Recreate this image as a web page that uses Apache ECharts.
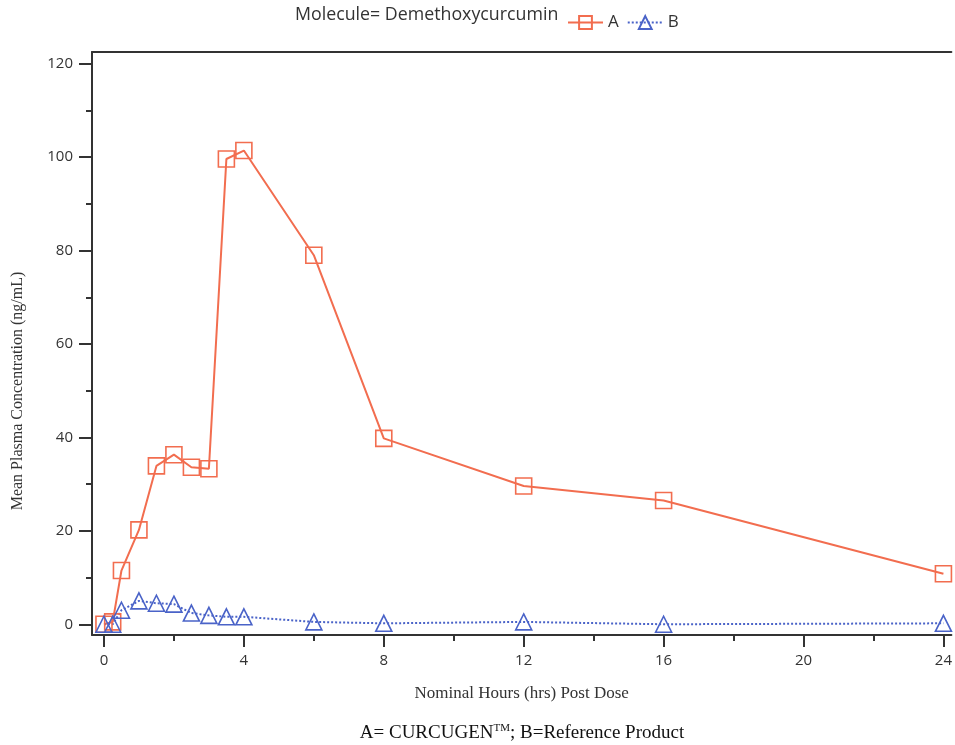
<!DOCTYPE html>
<html>
<head>
<meta charset="utf-8">
<script src="https://cdn.jsdelivr.net/npm/echarts@6/dist/echarts.min.js"></script>
<style>
  html, body { margin: 0; padding: 0; background: #fff; }
  #chart { width: 955px; height: 745px; }
</style>
</head>
<body>
<div id="chart"></div>
<script>
// sampling times (hrs) and mean concentrations (ng/mL)
const hours = [0, 0.25, 0.5, 1, 1.5, 2, 2.5, 3, 3.5, 4, 6, 8, 12, 16, 24];
const seriesA = [0, 0.5, 11.5, 20.2, 33.9, 36.3, 33.6, 33.3, 99.6, 101.4, 79.0, 39.8, 29.6, 26.5, 10.8];
const seriesB = [0, 0, 3.0, 5.0, 4.5, 4.3, 2.4, 1.9, 1.6, 1.6, 0.5, 0.2, 0.5, 0, 0.2];

const xMajorTicks = [0, 4, 8, 12, 16, 20, 24];
const xMinorTicks = [2, 6, 10, 14, 18, 22];
const yMajorTicks = [0, 20, 40, 60, 80, 100, 120];
const yMinorTicks = [10, 30, 50, 70, 90, 110];

const colorA = '#f26d4f';
const colorB = '#4a63c8';

const toPairs = vals => hours.map((h, i) => [h, vals[i]]);

const chart = echarts.init(document.getElementById('chart'));

const xCommon = {
    type: 'value', min: -0.342, max: 24.228,
    splitLine: { show: false }
};
const yCommon = {
    type: 'value', min: -2.3, max: 122.5,
    splitLine: { show: false }
};
const dark = { color: '#333', width: 2 };

const option = {
    animation: false,
    backgroundColor: '#fff',
    grid: { left: 92, top: 52, right: 0, bottom: 110 },
    legend: {
        left: 562, top: 9,
        itemWidth: 35, itemHeight: 16, itemGap: 8,
        textStyle: { fontFamily: 'Open Sans', fontSize: 17, color: '#333' },
        data: ['A', 'B']
    },
    graphic: [
        {
            type: 'text', left: 295, top: 6,
            style: { text: 'Molecule= Demethoxycurcumin', font: '17.8px "Open Sans"', fill: '#333' }
        },
        {
            type: 'text', x: 18, y: 391, rotation: Math.PI / 2,
            style: {
                text: 'Mean Plasma Concentration (ng/mL)', font: '16px "Liberation Serif"',
                fill: '#333', align: 'center', verticalAlign: 'middle'
            }
        },
        {
            type: 'text', x: 522, y: 733,
            style: {
                text: 'A= CURCUGEN{sup|TM}; B=Reference Product',
                font: '19px "Liberation Serif"', fill: '#111',
                align: 'center', verticalAlign: 'middle',
                rich: { sup: { fontSize: 11, fontFamily: 'Liberation Serif', padding: [0, 0, 9, 0], fill: '#111' } }
            }
        }
    ],
    xAxis: [
        Object.assign({}, xCommon, {
            position: 'bottom',
            name: 'Nominal Hours (hrs) Post Dose',
            nameLocation: 'middle', nameGap: 50,
            nameTextStyle: { fontFamily: 'Liberation Serif', fontSize: 17, color: '#333' },
            axisLine: { show: true, onZero: false, lineStyle: dark },
            axisTick: { show: true, inside: false, length: 12, lineStyle: dark, customValues: xMajorTicks },
            axisLabel: { customValues: xMajorTicks, fontFamily: 'Open Sans', fontSize: 15, color: '#333', margin: 18 }
        }),
        Object.assign({}, xCommon, {
            position: 'bottom',
            axisLine: { show: false, onZero: false },
            axisTick: { show: true, inside: false, length: 6, lineStyle: dark, customValues: xMinorTicks },
            axisLabel: { show: false }
        }),
        Object.assign({}, xCommon, {
            position: 'top',
            axisLine: { show: true, onZero: false, lineStyle: dark },
            axisTick: { show: false },
            axisLabel: { show: false }
        })
    ],
    yAxis: [
        Object.assign({}, yCommon, {
            position: 'left',
            axisLine: { show: true, onZero: false, lineStyle: dark },
            axisTick: { show: true, inside: false, length: 13, lineStyle: dark, customValues: yMajorTicks },
            axisLabel: { customValues: yMajorTicks, fontFamily: 'Open Sans', fontSize: 15, color: '#333', margin: 19 }
        }),
        Object.assign({}, yCommon, {
            position: 'left',
            axisLine: { show: false, onZero: false },
            axisTick: { show: true, inside: false, length: 6, lineStyle: dark, customValues: yMinorTicks },
            axisLabel: { show: false }
        })
    ],
    series: [
        {
            name: 'A', type: 'line', xAxisIndex: 0, yAxisIndex: 0,
            data: toPairs(seriesA),
            symbol: 'rect', symbolSize: 16,
            lineStyle: { color: colorA, width: 2 },
            itemStyle: { color: 'rgba(255,255,255,0)', borderColor: colorA, borderWidth: 1.6 }
        },
        {
            name: 'B', type: 'line', xAxisIndex: 0, yAxisIndex: 0,
            data: toPairs(seriesB),
            symbol: 'triangle', symbolSize: 16,
            lineStyle: { color: colorB, width: 2, type: 'dotted' },
            itemStyle: { color: 'rgba(255,255,255,0)', borderColor: colorB, borderWidth: 1.6 }
        }
    ]
};

chart.setOption(option);
</script>
</body>
</html>
